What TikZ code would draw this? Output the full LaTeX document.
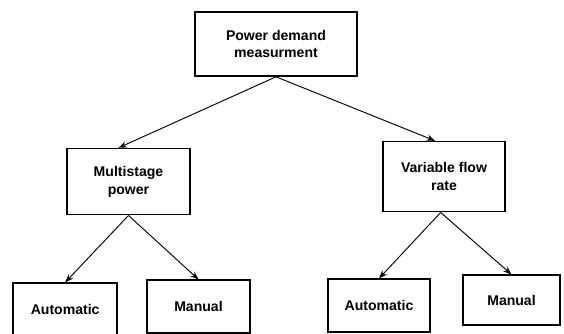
\documentclass[tikz,border=0pt]{standalone}
\usepackage{fontspec}
\setmainfont{Liberation Sans}
\usepackage{tikz}
\usetikzlibrary{
    arrows.meta,
    positioning
}

\begin{document}
\begin{tikzpicture}[
box/.style={
draw,
line width=1.4pt,
align=center,
inner sep=2pt,
font=\fontsize{12}{15}\selectfont\bfseries
}
]

\useasboundingbox (0,0) rectangle (16.92,9.99);

\node[box, minimum width=4.86cm, minimum height=1.92cm]
at (8.28,8.67) (demand)
{Power demand\\measurment};

\node[box, minimum width=3.69cm, minimum height=1.98cm,
below=2.13cm of demand, xshift=-4.425cm] (multi)
{Multistage\\power};

\node[box, minimum width=3.66cm, minimum height=2.1cm,
below=1.92cm of demand, xshift=5.04cm] (flow)
{Variable flow\\rate};

\node[box, minimum width=3.12cm, minimum height=1.56cm,
below=2.01cm of multi, xshift=-1.9cm] (autoA)
{Automatic};

\node[box, minimum width=3.09cm, minimum height=1.59cm,
below=1.92cm of multi, xshift=2.1cm] (manualA)
{Manual};

\node[box, minimum width=3.06cm, minimum height=1.59cm,
below=1.98cm of flow, xshift=-1.95cm] (autoB)
{Automatic};

\node[box, minimum width=2.91cm, minimum height=1.5cm,
below=1.86cm of flow, xshift=2.025cm] (manualB)
{Manual};

\draw[-{Stealth[length=2.5mm]}, thick]
(demand.south) -- ([xshift=-0.3cm]multi.north);

\draw[-{Stealth[length=2.5mm]}, thick]
(demand.south) -- ([xshift=-0.27cm]flow.north);

\draw[-{Stealth[length=2.5mm]}, thick]
(multi.south) -- (autoA.north);

\draw[-{Stealth[length=2.5mm]}, thick]
(multi.south) -- (manualA.north);

\draw[-{Stealth[length=2.5mm]}, thick]
([xshift=-0.1cm]flow.south) -- (autoB.north);

\draw[-{Stealth[length=2.5mm]}, thick]
([xshift=-0.1cm]flow.south) -- (manualB.north);

\end{tikzpicture}
\end{document}
